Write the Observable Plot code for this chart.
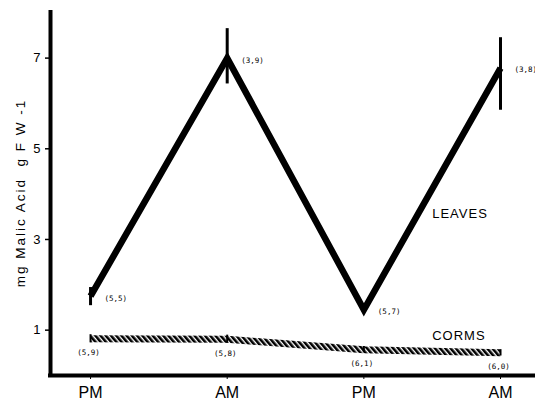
<!DOCTYPE html>
<html><head><meta charset="utf-8">
<script src="https://cdn.jsdelivr.net/npm/d3@7"></script>
<script src="https://cdn.jsdelivr.net/npm/@observablehq/plot@0.6"></script>
<style>
body{margin:0;background:#fff}
svg{font-family:"Liberation Sans",Arial,sans-serif}
.ylab text{letter-spacing:2px}
.series text{letter-spacing:1px}
.nlab text{font-family:"DejaVu Sans Mono",monospace}
</style>
</head><body><div id="chart"></div>
<script>
const times = ["PM", "AM", "PM", "AM"];
const leaves = [1.75, 7.0, 1.45, 6.78];
const leavesLow = [1.54, 6.43, 1.45, 5.85];
const leavesHigh = [1.94, 7.65, 1.45, 7.45];
const leavesN = ["(5,5)", "(3,9)", "(5,7)", "(3,8)"];
const corms = [0.81, 0.8, 0.57, 0.5];
const cormsLow = [0.72, 0.71, 0.5, 0.43];
const cormsHigh = [0.9, 0.89, 0.64, 0.57];
const cormsN = ["(5,9)", "(5,8)", "(6,1)", "(6,0)"];
const yTicks = [1, 3, 5, 7];
const yLabel = "mg Malic Acid  g F W -1";
const seriesNames = ["LEAVES", "CORMS"];
const seriesLabelX = [2.5, 2.5];
const seriesLabelY = [3.57, 0.88];

const xDomain = [-0.293, 3.256];
const yDomain = [0, 8.05];

const data = times.map((t, i) => ({
  i, t,
  leaves: leaves[i], lLow: leavesLow[i], lHigh: leavesHigh[i], lN: leavesN[i],
  corms: corms[i], cLow: cormsLow[i], cHigh: cormsHigh[i], cN: cormsN[i]
}));
const seriesData = seriesNames.map((name, k) => ({name, x: seriesLabelX[k], y: seriesLabelY[k]}));

const chart = Plot.plot({
  width: 535,
  height: 401,
  marginLeft: 50,
  marginRight: 0,
  marginTop: 10,
  marginBottom: 26,
  x: {type: "linear", domain: xDomain},
  y: {domain: yDomain},
  marks: [
    Plot.axisY(yTicks, {tickSize: 5, tickPadding: 5, fontSize: 13, label: null, strokeWidth: 1.5}),
    Plot.axisX(data.map(d => d.i), {tickFormat: i => times[i], tickSize: 4, tickPadding: 7, fontSize: 16, label: null}),
    Plot.text([yLabel], {text: d => d, frameAnchor: "left", textAnchor: "middle", rotate: -90, dx: -30, fontSize: 13.5, className: "ylab"}),
    Plot.line(data, {x: "i", y: "leaves", strokeWidth: 6.5, strokeLinejoin: "miter", strokeMiterlimit: 10, strokeLinecap: "butt"}),
    Plot.ruleX(data.filter(d => d.lHigh > d.lLow), {x: "i", y1: "lLow", y2: "lHigh", strokeWidth: 3}),
    Plot.line(data, {x: "i", y: "corms", stroke: "url(#hatch)", strokeWidth: 7, strokeLinecap: "butt"}),
    Plot.ruleX(data, {x: "i", y1: "cLow", y2: "cHigh", strokeWidth: 2}),
    Plot.text(data, {x: "i", y: "leaves", text: "lN", textAnchor: "start", dx: 14, dy: 2, fontSize: 7.5, className: "nlab"}),
    Plot.text(data, {x: "i", y: "corms", text: "cN", dy: 14, dx: -2, fontSize: 7.5, className: "nlab"}),
    Plot.text(seriesData, {x: "x", y: "y", text: "name", textAnchor: "start", fontSize: 13, className: "series"}),
    Plot.ruleY([yDomain[0]], {strokeWidth: 4, insetLeft: -2}),
    Plot.ruleX([xDomain[0]], {strokeWidth: 4})
  ]
});

const svgNS = "http://www.w3.org/2000/svg";
const defs = document.createElementNS(svgNS, "defs");
defs.innerHTML = '<pattern id="hatch" patternUnits="userSpaceOnUse" width="4" height="4" patternTransform="rotate(-40)"><rect width="4" height="4" fill="#fff"/><rect width="2.6" height="4" fill="#000"/></pattern>';
chart.insertBefore(defs, chart.firstChild);
document.getElementById("chart").appendChild(chart);
</script>
</body></html>
